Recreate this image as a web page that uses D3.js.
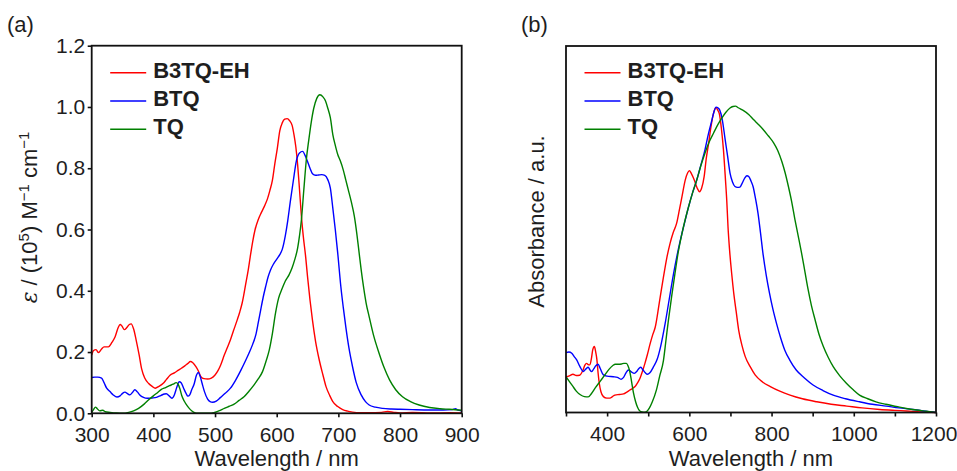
<!DOCTYPE html>
<html>
<head>
<meta charset="utf-8">
<script src="https://cdn.jsdelivr.net/npm/d3@7"></script>
<style>
  body { margin: 0; background: #fff; }
  svg { display: block; }
  text { font-family: "Liberation Sans", Arial, sans-serif; fill: #1e1e1e; }
</style>
</head>
<body>
<svg id="chart" width="957" height="471"></svg>
<script>
// ---- (a) molar absorptivity in solution, ε / (10^5 M^-1 cm^-1) vs wavelength (nm)
const solB3TQEH = [
  [300,0.19],[303,0.205],[307,0.208],[311,0.198],[316,0.21],[320,0.217],[327,0.217],[333,0.232],
  [338,0.25],[343,0.28],[346,0.29],[349,0.285],[353,0.273],[357,0.28],[361,0.29],[364,0.292],
  [368,0.275],[372,0.24],[377,0.19],[381,0.145],[386,0.115],[392,0.098],[398,0.088],[403,0.082],
  [409,0.088],[416,0.098],[421,0.11],[427,0.124],[434,0.132],[440,0.14],[446,0.148],[451,0.155],
  [456,0.163],[460,0.169],[464,0.165],[469,0.152],[473,0.138],[477,0.12],[482,0.113],[488,0.112],
  [494,0.115],[500,0.125],[505,0.14],[509,0.157],[515,0.19],[520,0.215],[525,0.24],[530,0.27],
  [536,0.305],[540,0.33],[544,0.36],[550,0.425],[554,0.47],[557,0.51],[561,0.56],[565,0.6],
  [570,0.632],[575,0.655],[581,0.68],[585,0.7],[589,0.728],[593,0.76],[597,0.815],[601,0.865],
  [605,0.922],[609,0.948],[613,0.96],[617,0.962],[621,0.955],[625,0.94],[628,0.91],[631,0.87],
  [634,0.81],[637,0.73],[640,0.645],[643,0.58],[647,0.51],[650,0.446],[654,0.37],[658,0.304],
  [663,0.235],[669,0.174],[675,0.125],[680,0.087],[686,0.058],[691,0.038],[699,0.022],[707,0.012],
  [715,0.007],[723,0.004],[735,0.002],[750,0.002],[770,0.003],[780,0.006],[790,0.003],[800,0.001],
  [820,0.003],[850,0.001],[880,0.002],[900,0.001]
];
const solBTQ = [
  [300,0.117],[305,0.118],[310,0.118],[316,0.115],[320,0.1],[324,0.083],[330,0.07],[335,0.06],
  [341,0.053],[346,0.057],[350,0.065],[354,0.069],[358,0.064],[362,0.06],[366,0.068],[370,0.077],
  [374,0.07],[378,0.06],[384,0.052],[390,0.049],[398,0.05],[405,0.052],[412,0.058],[418,0.063],
  [421,0.064],[426,0.056],[430,0.049],[434,0.06],[438,0.085],[442,0.103],[445,0.1],[449,0.082],
  [453,0.065],[456,0.056],[459,0.06],[462,0.076],[466,0.095],[470,0.125],[473,0.133],[476,0.12],
  [479,0.098],[483,0.07],[488,0.046],[492,0.038],[496,0.036],[502,0.04],[509,0.052],[517,0.066],
  [525,0.082],[533,0.107],[542,0.141],[549,0.17],[555,0.196],[561,0.225],[566,0.255],[570,0.295],
  [574,0.337],[578,0.378],[582,0.413],[586,0.445],[590,0.468],[595,0.488],[601,0.506],[605,0.518],
  [609,0.535],[614,0.58],[618,0.63],[622,0.69],[627,0.76],[632,0.825],[637,0.85],[642,0.855],
  [646,0.842],[650,0.822],[654,0.8],[658,0.782],[663,0.777],[668,0.778],[673,0.779],[678,0.777],
  [683,0.762],[687,0.735],[691,0.67],[695,0.6],[699,0.522],[704,0.414],[708,0.345],[712,0.283],
  [717,0.215],[723,0.152],[729,0.1],[737,0.06],[744,0.038],[750,0.027],[760,0.02],[772,0.016],
  [786,0.014],[800,0.013],[820,0.012],[848,0.011],[870,0.011],[885,0.012],[890,0.015],[893,0.011],
  [900,0.008]
];
const solTQ = [
  [300,0.003],[303,0.012],[306,0.02],[309,0.015],[313,0.008],[318,0.01],[322,0.005],[330,0.003],
  [340,0.001],[350,0.0],[360,0.003],[368,0.008],[376,0.016],[385,0.03],[393,0.045],[400,0.057],
  [407,0.068],[413,0.078],[420,0.084],[426,0.09],[432,0.095],[437,0.1],[440,0.095],[443,0.08],
  [446,0.058],[450,0.04],[455,0.024],[460,0.012],[465,0.004],[470,0.0],[490,0.0],[498,0.002],
  [506,0.008],[515,0.016],[523,0.023],[531,0.03],[539,0.042],[547,0.054],[555,0.072],[563,0.092],
  [570,0.112],[577,0.136],[583,0.172],[588,0.207],[593,0.26],[598,0.326],[603,0.375],[609,0.408],
  [614,0.432],[620,0.452],[625,0.475],[629,0.5],[634,0.54],[637,0.58],[640,0.63],[644,0.73],
  [648,0.827],[652,0.892],[656,0.95],[660,0.995],[665,1.028],[670,1.04],[675,1.033],[679,1.02],
  [683,0.995],[687,0.965],[691,0.91],[695,0.875],[699,0.845],[703,0.825],[708,0.794],[712,0.762],
  [716,0.73],[721,0.69],[726,0.642],[730,0.585],[733,0.535],[737,0.468],[741,0.41],[745,0.36],
  [750,0.315],[757,0.255],[766,0.196],[774,0.15],[783,0.109],[793,0.077],[804,0.054],[817,0.038],
  [831,0.027],[848,0.019],[865,0.015],[880,0.013],[900,0.01]
];

// ---- (b) normalised film absorbance vs wavelength (nm)
const filmB3TQEH = [
  [300,0.117],[308,0.12],[317,0.125],[325,0.121],[333,0.122],[341,0.138],[346,0.155],[350,0.161],
  [354,0.157],[358,0.156],[362,0.178],[365,0.205],[369,0.216],[372,0.2],[375,0.175],[378,0.13],
  [381,0.095],[385,0.068],[391,0.052],[399,0.047],[407,0.047],[413,0.052],[419,0.057],[430,0.059],
  [440,0.061],[448,0.067],[456,0.074],[462,0.079],[468,0.085],[474,0.097],[480,0.112],[486,0.135],
  [492,0.161],[498,0.19],[505,0.227],[511,0.255],[517,0.279],[527,0.36],[537,0.443],[545,0.505],
  [553,0.553],[561,0.59],[569,0.619],[576,0.665],[582,0.706],[590,0.761],[596,0.785],[600,0.792],
  [605,0.782],[612,0.761],[619,0.735],[625,0.723],[630,0.735],[636,0.772],[641,0.83],[647,0.882],
  [652,0.93],[657,0.969],[661,0.99],[665,0.998],[669,0.99],[673,0.978],[678,0.93],[683,0.86],
  [688,0.76],[691,0.695],[694,0.61],[698,0.53],[703,0.455],[708,0.391],[714,0.33],[720,0.27],
  [728,0.22],[736,0.183],[748,0.15],[760,0.123],[778,0.1],[797,0.085],[820,0.07],[845,0.057],
  [875,0.045],[910,0.035],[945,0.027],[983,0.021],[1020,0.015],[1063,0.01],[1100,0.007],
  [1128,0.005],[1165,0.002],[1200,0.0]
];
const filmBTQ = [
  [300,0.196],[307,0.198],[314,0.194],[320,0.183],[326,0.172],[334,0.15],[342,0.134],[348,0.142],
  [354,0.148],[358,0.14],[362,0.134],[367,0.142],[372,0.152],[378,0.158],[383,0.145],[391,0.123],
  [400,0.119],[415,0.117],[425,0.115],[434,0.109],[440,0.115],[446,0.13],[452,0.139],[459,0.133],
  [466,0.128],[473,0.136],[478,0.145],[482,0.148],[487,0.14],[493,0.13],[498,0.125],[504,0.13],
  [513,0.15],[522,0.175],[530,0.215],[541,0.29],[551,0.37],[561,0.45],[571,0.52],[582,0.586],
  [590,0.63],[598,0.673],[608,0.72],[618,0.761],[628,0.81],[638,0.86],[646,0.91],[655,0.958],
  [660,0.985],[665,1.0],[670,0.997],[674,0.99],[680,0.96],[687,0.895],[693,0.84],[699,0.784],
  [705,0.755],[711,0.74],[717,0.737],[723,0.738],[729,0.752],[735,0.768],[740,0.775],[745,0.772],
  [750,0.758],[755,0.74],[761,0.7],[767,0.653],[773,0.59],[779,0.522],[787,0.45],[795,0.391],
  [803,0.34],[812,0.292],[822,0.245],[832,0.205],[845,0.17],[860,0.139],[880,0.113],[901,0.09],
  [925,0.072],[950,0.057],[980,0.045],[1014,0.035],[1045,0.027],[1079,0.021],[1110,0.015],
  [1144,0.01],[1170,0.005],[1200,0.0]
];
const filmTQ = [
  [300,0.117],[308,0.102],[316,0.087],[325,0.07],[335,0.058],[345,0.052],[354,0.051],[362,0.062],
  [372,0.082],[383,0.102],[395,0.124],[405,0.142],[414,0.154],[420,0.158],[428,0.158],[435,0.159],
  [441,0.161],[447,0.161],[451,0.152],[455,0.135],[459,0.105],[464,0.065],[469,0.037],[474,0.017],
  [479,0.006],[485,0.002],[492,0.001],[497,0.004],[503,0.015],[510,0.035],[520,0.074],[528,0.12],
  [537,0.17],[543,0.235],[549,0.301],[557,0.38],[565,0.455],[573,0.525],[582,0.586],[590,0.632],
  [598,0.673],[608,0.72],[618,0.761],[628,0.808],[638,0.849],[648,0.885],[659,0.915],[669,0.942],
  [679,0.964],[689,0.983],[699,0.997],[706,1.002],[712,1.003],[720,0.997],[730,0.99],[745,0.975],
  [756,0.959],[768,0.943],[780,0.926],[792,0.906],[805,0.883],[815,0.858],[825,0.822],[833,0.785],
  [841,0.74],[849,0.69],[857,0.631],[865,0.577],[873,0.522],[881,0.462],[889,0.402],[897,0.35],
  [906,0.303],[915,0.258],[926,0.216],[938,0.18],[950,0.15],[966,0.12],[982,0.096],[998,0.075],
  [1014,0.057],[1034,0.045],[1054,0.035],[1078,0.027],[1103,0.02],[1128,0.013],[1152,0.008],
  [1176,0.004],[1200,0.0]
];

const seriesNames = ["B3TQ-EH", "BTQ", "TQ"];
const seriesColors = ["#ff0000", "#0000ff", "#008000"];

const xTicksA = [300, 400, 500, 600, 700, 800, 900];
const yTicksA = [0.0, 0.2, 0.4, 0.6, 0.8, 1.0, 1.2];
const xTicksB = [300, 400, 500, 600, 700, 800, 900, 1000, 1100, 1200];
const xLabelsB = [400, 600, 800, 1000, 1200];

const svg = d3.select("#chart");

function drawPanel(cfg) {
  const x = d3.scaleLinear().domain(cfg.xDomain).range([cfg.left, cfg.right]);
  const y = d3.scaleLinear().domain([0, 1.2]).range([cfg.bottom, cfg.top]);
  const g = svg.append("g");

  // curves
  const line = d3.line()
    .x(d => x(d[0]))
    .y(d => y(d[1]))
    .curve(d3.curveMonotoneX);
  cfg.data.forEach((s, i) => {
    g.append("path")
      .datum(s)
      .attr("fill", "none")
      .attr("stroke", seriesColors[i])
      .attr("stroke-width", 1.4)
      .attr("stroke-linejoin", "round")
      .attr("d", line);
  });

  // x axis
  const xAxis = d3.axisBottom(x)
    .tickValues(cfg.xTicks)
    .tickSize(4)
    .tickSizeOuter(0)
    .tickPadding(9.5)
    .tickFormat(d => cfg.xLabels.includes(d) ? String(d) : "");
  const gx = g.append("g")
    .attr("transform", `translate(0,${cfg.bottom})`)
    .call(xAxis);
  gx.select(".domain").remove();
  gx.selectAll(".tick line").attr("stroke", "#111").attr("stroke-width", 1.6);
  gx.selectAll(".tick text").style("font-size", "21px").attr("fill", "#1e1e1e");
  // keep the last label inside the page edge
  gx.selectAll(".tick text").filter(d => d === 1200).attr("dx", -2.5);

  // y axis (ticks only where the panel has a scale)
  if (cfg.yTicks) {
    const yAxis = d3.axisLeft(y)
      .tickValues(cfg.yTicks)
      .tickSize(4)
      .tickSizeOuter(0)
      .tickPadding(2.5)
      .tickFormat(d3.format(".1f"));
    const gy = g.append("g")
      .attr("transform", `translate(${cfg.left},0)`)
      .call(yAxis);
    gy.select(".domain").remove();
    gy.selectAll(".tick line").attr("stroke", "#111").attr("stroke-width", 1.6);
    gy.selectAll(".tick text").style("font-size", "21px").attr("fill", "#1e1e1e");
  }

  // frame
  g.append("rect")
    .attr("x", cfg.left).attr("y", cfg.top)
    .attr("width", cfg.right - cfg.left)
    .attr("height", cfg.bottom - cfg.top)
    .attr("fill", "none")
    .attr("stroke", "#111")
    .attr("stroke-width", 1.8);

  // legend
  seriesNames.forEach((name, i) => {
    const ly = 72.7 + i * 28.3;
    g.append("line")
      .attr("x1", cfg.left + 18.5).attr("x2", cfg.left + 54.5)
      .attr("y1", ly).attr("y2", ly)
      .attr("stroke", seriesColors[i]).attr("stroke-width", 1.6);
    g.append("text")
      .attr("x", cfg.left + 61.5).attr("y", ly + 5)
      .style("font-size", "22px").style("font-weight", "bold")
      .attr("fill", "#111")
      .text(name);
  });

  // x title
  g.append("text")
    .attr("x", (cfg.left + cfg.right) / 2).attr("y", 466)
    .attr("text-anchor", "middle")
    .style("font-size", "22px")
    .text("Wavelength / nm");

  // panel tag
  g.append("text")
    .attr("x", cfg.tagX).attr("y", 32)
    .style("font-size", "22px")
    .text(cfg.tag);

  return g;
}

drawPanel({
  left: 91.7, right: 461.7, top: 45.7, bottom: 413.3,
  xDomain: [300, 900], xTicks: xTicksA, xLabels: xTicksA, yTicks: yTicksA,
  data: [solB3TQEH, solBTQ, solTQ], tag: "(a)", tagX: 7
});
drawPanel({
  left: 566, right: 936, top: 46, bottom: 412.5,
  xDomain: [300, 1200], xTicks: xTicksB, xLabels: xLabelsB, yTicks: null,
  data: [filmB3TQEH, filmBTQ, filmTQ], tag: "(b)", tagX: 521
});

// y titles
const ya = svg.append("text")
  .attr("transform", "translate(37,217.5) rotate(-90)")
  .attr("text-anchor", "middle")
  .style("font-size", "22px");
ya.append("tspan").style("font-style", "italic").style("font-family", "'DejaVu Serif', serif").text("ε");
ya.append("tspan").text("  / (10");
ya.append("tspan").attr("dy", -8).style("font-size", "15px").text("5");
ya.append("tspan").attr("dy", 8).text(") M");
ya.append("tspan").attr("dy", -8).style("font-size", "15px").text("−1");
ya.append("tspan").attr("dy", 8).text(" cm");
ya.append("tspan").attr("dy", -8).style("font-size", "15px").text("−1");

svg.append("text")
  .attr("transform", "translate(544,221.5) rotate(-90)")
  .attr("text-anchor", "middle")
  .style("font-size", "22px")
  .text("Absorbance / a.u.");
</script>
</body>
</html>
